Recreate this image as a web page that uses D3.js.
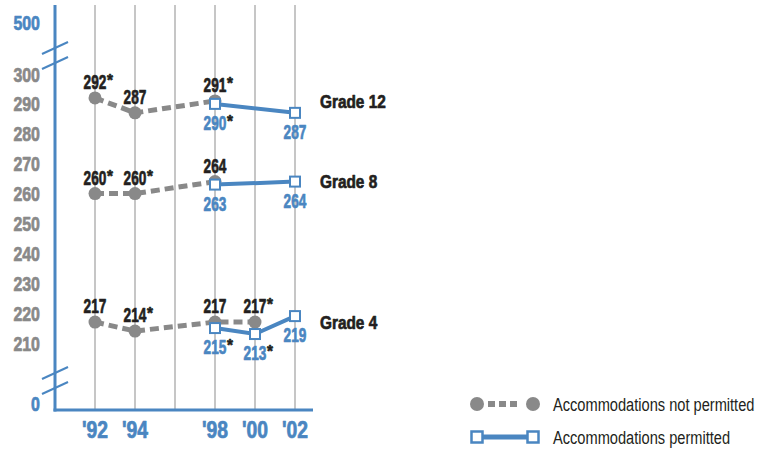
<!DOCTYPE html>
<html lang="en">
<head>
<meta charset="UTF-8">
<title>Grade scores</title>
<style>
  body { margin: 0; background: #ffffff; }
  svg { display: block; }
  text { font-family: "Liberation Sans", Arial, sans-serif; }
</style>
</head>
<body>
<div class="chart"></div>
<script src="https://d3js.org/d3.v7.min.js"></script>
<script>
  // x axis: assessment years and their labels
  const years = [1992, 1994, 1996, 1998, 2000, 2002]
  const yearLabels = ["'92", "'94", "", "'98", "'00", "'02"]
  // y axis: broken scale, 0 and 500 shown beyond the breaks
  const yTicks = [0, 210, 220, 230, 240, 250, 260, 270, 280, 290, 300, 500]

  const grades = ['Grade 12', 'Grade 8', 'Grade 4']
  // accommodations not permitted (star = significantly different)
  const g12Not = [{year: 1992, v: 292, star: true}, {year: 1994, v: 287, star: false}, {year: 1998, v: 291, star: true}]
  const g8Not = [{year: 1992, v: 260, star: true}, {year: 1994, v: 260, star: true}, {year: 1998, v: 264, star: false}]
  const g4Not = [{year: 1992, v: 217, star: false}, {year: 1994, v: 214, star: true}, {year: 1998, v: 217, star: false}, {year: 2000, v: 217, star: true}]
  // accommodations permitted
  const g12Perm = [{year: 1998, v: 290, star: true}, {year: 2002, v: 287, star: false}]
  const g8Perm = [{year: 1998, v: 263, star: false}, {year: 2002, v: 264, star: false}]
  const g4Perm = [{year: 1998, v: 215, star: true}, {year: 2000, v: 213, star: true}, {year: 2002, v: 219, star: false}]

  const legendLabels = ['Accommodations not permitted', 'Accommodations permitted']

  const blue = '#4a86c1'
  const grey = '#898989'
  const dark = '#231f20'

  const width = 758, height = 452
  const svg = d3.select('.chart').append('svg')
    .attr('width', width).attr('height', height)

  const x = d3.scaleLinear().domain([1992, 2002]).range([95, 295])
  const y = d3.scaleLinear().domain([0, 210, 300, 500]).range([403, 343, 74, 22])
  const axisX = 55, axisY = 410

  // condensed text: squeeze a normal face horizontally
  function ctext(parent, px, py, str, o) {
    const t = parent.append('text')
      .attr('transform', 'translate(' + px + ',' + py + ') scale(' + (o.sx || 0.75) + ',1)')
      .attr('text-anchor', o.anchor || 'start')
      .attr('dy', o.dy || 0)
      .attr('font-size', o.size)
      .attr('font-weight', o.weight || 'bold')
      .attr('fill', o.fill)
      .text(str)
    if (o.weight !== 'normal') {
      t.attr('stroke', o.fill).attr('stroke-width', 0.7).attr('stroke-linejoin', 'round')
    }
    return t
  }

  // vertical grid lines
  svg.append('g').selectAll('line')
    .data(years).enter().append('line')
    .attr('x1', d => x(d)).attr('x2', d => x(d))
    .attr('y1', 5).attr('y2', axisY)
    .attr('stroke', '#b3b3b3').attr('stroke-width', 1.5)

  // axes lines
  svg.append('line')
    .attr('x1', axisX).attr('x2', axisX).attr('y1', 5).attr('y2', axisY + 1.5)
    .attr('stroke', blue).attr('stroke-width', 3)
  svg.append('line')
    .attr('x1', axisX - 1.5).attr('x2', 313).attr('y1', axisY).attr('y2', axisY)
    .attr('stroke', blue).attr('stroke-width', 3)

  // axis breaks
  const breakAt = [[y(400), y(400) + 15], [y(105), y(105) + 15]]
  breakAt.forEach(pair => {
    pair.forEach(cy => {
      svg.append('line')
        .attr('x1', axisX - 13).attr('y1', cy + 6)
        .attr('x2', axisX + 13).attr('y2', cy - 6)
        .attr('stroke', blue).attr('stroke-width', 2)
    })
  })

  // y tick labels
  yTicks.forEach(d => {
    ctext(svg, 40, y(d), d, {anchor: 'end', dy: '0.36em', size: 21, sx: 0.76,
      fill: (d === 0 || d === 500) ? blue : grey})
  })

  // x tick labels
  years.forEach((d, i) => {
    ctext(svg, x(d), 438, yearLabels[i], {anchor: 'middle', size: 23, sx: 0.84, fill: blue})
  })

  const line = d3.line().x(d => x(d.year)).y(d => y(d.v))

  function valueLabel(d, dy, color) {
    const sx = 0.7
    const t = ctext(svg, x(d.year), y(d.v) + dy, d.v, {anchor: 'middle', size: 19.5, sx: sx, fill: color})
    if (d.star) {
      const w = t.node().getComputedTextLength() * sx
      ctext(svg, x(d.year) + w / 2 + 0.5, y(d.v) + dy - 3, '*', {size: 17, sx: 0.9, fill: dark})
    }
  }

  const notSeries = [g12Not, g8Not, g4Not]
  const permSeries = [g12Perm, g8Perm, g4Perm]

  notSeries.forEach(s => {
    svg.append('path').datum(s)
      .attr('d', line).attr('fill', 'none')
      .attr('stroke', grey).attr('stroke-width', 5)
      .attr('stroke-dasharray', '9,5')
    svg.append('g').selectAll('circle')
      .data(s).enter().append('circle')
      .attr('cx', d => x(d.year)).attr('cy', d => y(d.v))
      .attr('r', 6.5).attr('fill', grey)
    s.forEach(d => valueLabel(d, -9, dark))
  })

  permSeries.forEach(s => {
    svg.append('path').datum(s)
      .attr('d', line).attr('fill', 'none')
      .attr('stroke', blue).attr('stroke-width', 4)
    svg.append('g').selectAll('rect')
      .data(s).enter().append('rect')
      .attr('x', d => x(d.year) - 5).attr('y', d => y(d.v) - 5)
      .attr('width', 10).attr('height', 10)
      .attr('fill', '#fff').attr('stroke', blue).attr('stroke-width', 2)
    s.forEach(d => valueLabel(d, 26, blue))
  })

  // grade labels, next to the end of each group
  grades.forEach((g, i) => {
    const s = notSeries[i]
    ctext(svg, 320, y(s[s.length - 1].v), g, {dy: '0.36em', size: 18.5, sx: 0.83, fill: dark})
  })

  // legend
  const legend = svg.append('g').attr('transform', 'translate(477,404)')
  legend.append('line')
    .attr('x1', 0).attr('x2', 56).attr('y1', 0).attr('y2', 0)
    .attr('stroke', grey).attr('stroke-width', 6).attr('stroke-dasharray', '0,11,7,4,7,4,7,100')
  legend.selectAll('circle')
    .data([0, 56]).enter().append('circle')
    .attr('cx', d => d).attr('cy', 0).attr('r', 7).attr('fill', grey)
  legend.append('line')
    .attr('x1', 0).attr('x2', 56).attr('y1', 33).attr('y2', 33)
    .attr('stroke', blue).attr('stroke-width', 5)
  legend.selectAll('rect')
    .data([0, 56]).enter().append('rect')
    .attr('x', d => d - 5.5).attr('y', 27.5)
    .attr('width', 11).attr('height', 11)
    .attr('fill', '#fff').attr('stroke', blue).attr('stroke-width', 2.5)
  legendLabels.forEach((d, i) => {
    ctext(legend, 76, i * 33, d, {dy: '0.36em', size: 19, sx: 0.77, weight: 'normal', fill: dark})
  })
</script>
</body>
</html>
